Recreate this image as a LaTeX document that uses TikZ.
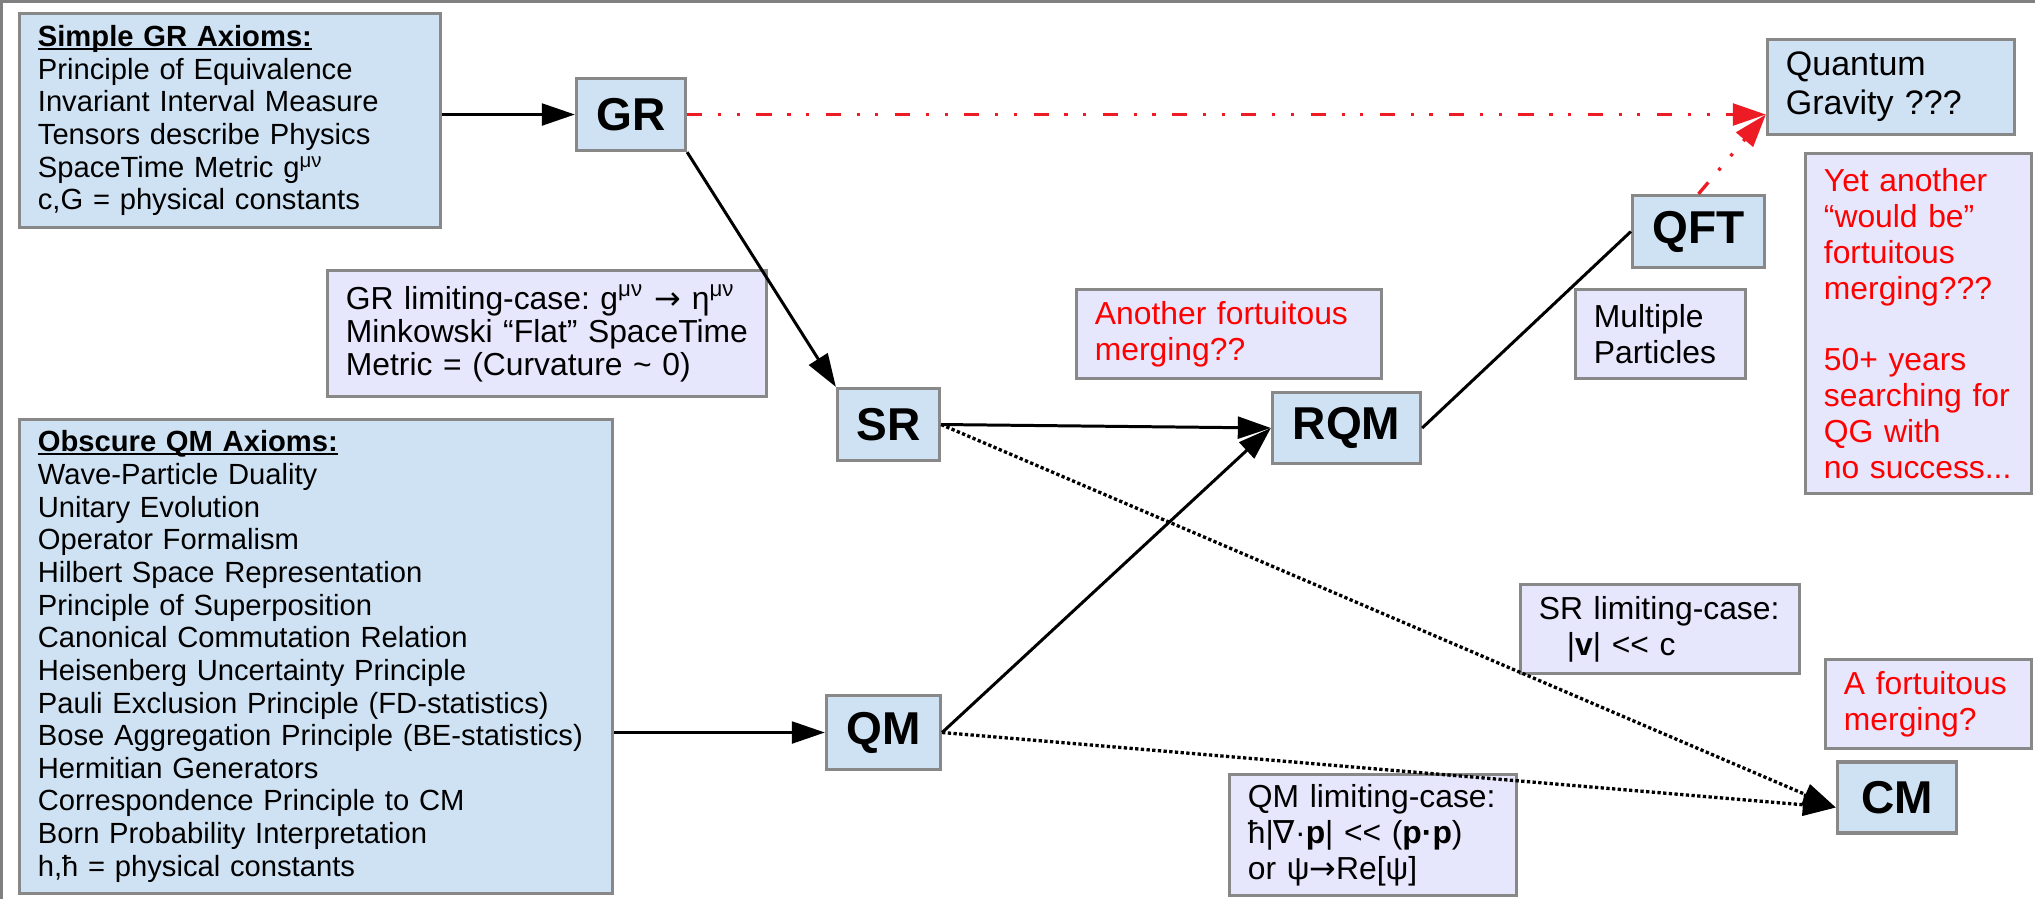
\documentclass[tikz,border=0pt]{standalone}
\usepackage{fontspec}
\setmainfont{Liberation Sans}
\newfontfamily\djvfont{DejaVu Sans}
\usetikzlibrary{arrows.meta}
\definecolor{boxblue}{RGB}{207,226,243}
\definecolor{boxlav}{RGB}{230,230,252}
\definecolor{boxgray}{RGB}{136,136,136}
\definecolor{framegray}{RGB}{128,128,128}
\definecolor{arrred}{RGB}{237,28,36}
\newcommand{\undertitle}[1]{\setbox0=\hbox{#1}\leavevmode\rlap{\rule[-0.11em]{\wd0}{0.07em}}\box0}
\frenchspacing

\begin{document}
\begin{tikzpicture}[x=0.01cm,y=-0.01cm,
        box/.style={rectangle,draw=boxgray,line width=0.9pt,inner xsep=0.185cm,inner ysep=0.08cm,align=left},
        axiom/.style={box,fill=boxblue,font=\fontsize{8.3}{9.28}\selectfont},
        note/.style={box,fill=boxlav,font=\fontsize{9.05}{10.2}\selectfont},
        theory/.style={box,fill=boxblue,align=center,inner xsep=0pt,font=\fontsize{13.1}{15}\selectfont\bfseries},
        arr/.style={line width=0.85pt,-{Triangle[length=9.4pt,width=6.2pt]}},
        limit/.style={arr,line width=0.94pt,dash pattern=on 0.94pt off 0.68pt},
        guess/.style={arr,arrred,line width=0.95pt,dash pattern=on 4.3pt off 4.5pt on 0.9pt off 4.4pt on 0.9pt off 4.7pt}]
        \useasboundingbox (0,0) rectangle (2035,899);
        \draw [framegray,line width=0.85pt] (2035,1.5) -- (1.5,1.5) -- (1.5,899);

        \node(1) at (230,120.5) [axiom,text width=3.84cm,minimum height=2.14cm] {\undertitle{\textbf{Simple GR Axioms:}}\\Principle of Equivalence\\Invariant Interval Measure\\Tensors describe Physics\\SpaceTime Metric g\textsuperscript{μν}\\c,G = physical constants};
        \node(2) at (631,114.5) [theory,minimum width=1.09cm,minimum height=0.72cm] {GR};
        \node(3) at (547,333.5) [note,font=\fontsize{9.05}{9.4}\selectfont,text width=4.02cm,minimum height=1.26cm] {GR limiting-case: g\textsuperscript{μν} {\djvfont →} η\textsuperscript{μν}\\Minkowski “Flat” SpaceTime\\Metric = (Curvature \textasciitilde{} 0)};
        \node(4) at (888.5,424.5) [theory,minimum width=1.02cm,minimum height=0.72cm] {SR};
        \node(5) at (1229,334) [note,text=red,text width=2.68cm,minimum height=0.89cm] {Another fortuitous\\merging??};
        \node(6) at (1346.5,428) [theory,minimum width=1.48cm,minimum height=0.71cm] {RQM};
        \node(7) at (1698.5,231.5) [theory,minimum width=1.32cm,minimum height=0.72cm] {QFT};
        \node(8) at (1660.5,334) [note,text width=1.33cm,minimum height=0.89cm] {Multiple\\Particles};
        \node(9) at (1891,87) [axiom,font=\fontsize{9.67}{11.1}\selectfont,text width=2.10cm,minimum height=0.95cm] {Quantum\\Gravity ???};
        \node(10) at (1918.5,323.5) [note,text=red,text width=1.89cm,minimum height=3.40cm] {Yet another\\“would be”\\fortuitous\\merging???\\[10.2pt]50+ years\\searching for\\QG with\\no success...};

        \node(11) at (316,656.5) [axiom,text width=5.56cm,minimum height=4.74cm] {\undertitle{\textbf{Obscure QM Axioms:}}\\Wave-Particle Duality\\Unitary Evolution\\Operator Formalism\\Hilbert Space Representation\\Principle of Superposition\\Canonical Commutation Relation\\Heisenberg Uncertainty Principle\\Pauli Exclusion Principle (FD-statistics)\\Bose Aggregation Principle (BE-statistics)\\Hermitian Generators\\Correspondence Principle to CM\\Born Probability Interpretation\\h,ħ = physical constants};
        \node(12) at (883.5,732.5) [theory,minimum width=1.14cm,minimum height=0.74cm] {QM};
        \node(13) at (1660,629) [note,text width=2.42cm,minimum height=0.89cm] {SR limiting-case:\\\hspace*{0.28cm}|\textbf{v}| <\mbox{}< c};
        \node(14) at (1928.5,704) [note,text=red,text width=1.69cm,minimum height=0.89cm] {A fortuitous\\merging?};
        \node(15) at (1897,797.5) [theory,minimum width=1.19cm,minimum height=0.71cm] {CM};
        \node(16) at (1373,835) [note,text width=2.50cm,minimum height=1.21cm] {QM limiting-case:\\ħ|{\djvfont ∇}·\textbf{p}| <\mbox{}< (\textbf{p·p})\\or ψ{\djvfont →}Re[ψ]};

        \coordinate (9a) at (2 -| 9.west);
        \coordinate (15a) at ([yshift=-0.1cm]15.west);

        \draw [arr] (1.east |- 2) -- (2);
        \draw [arr] (2.south east) -- (4.north west);
        \draw [arr] (4.east) -- (6.west);
        \draw [arr] (11.east |- 12) -- (12);
        \draw [arr] (12.east) -- (6.west);
        \draw [line width=0.85pt] (6.east) -- (7.west);

        \draw [guess] (2.east) -- (9a);
        \draw [guess] (7.north) -- (9a);

        \draw [limit] (4.east) -- (15a);
        \draw [limit] (12.east) -- (15a);
    \end{tikzpicture}
\end{document}
